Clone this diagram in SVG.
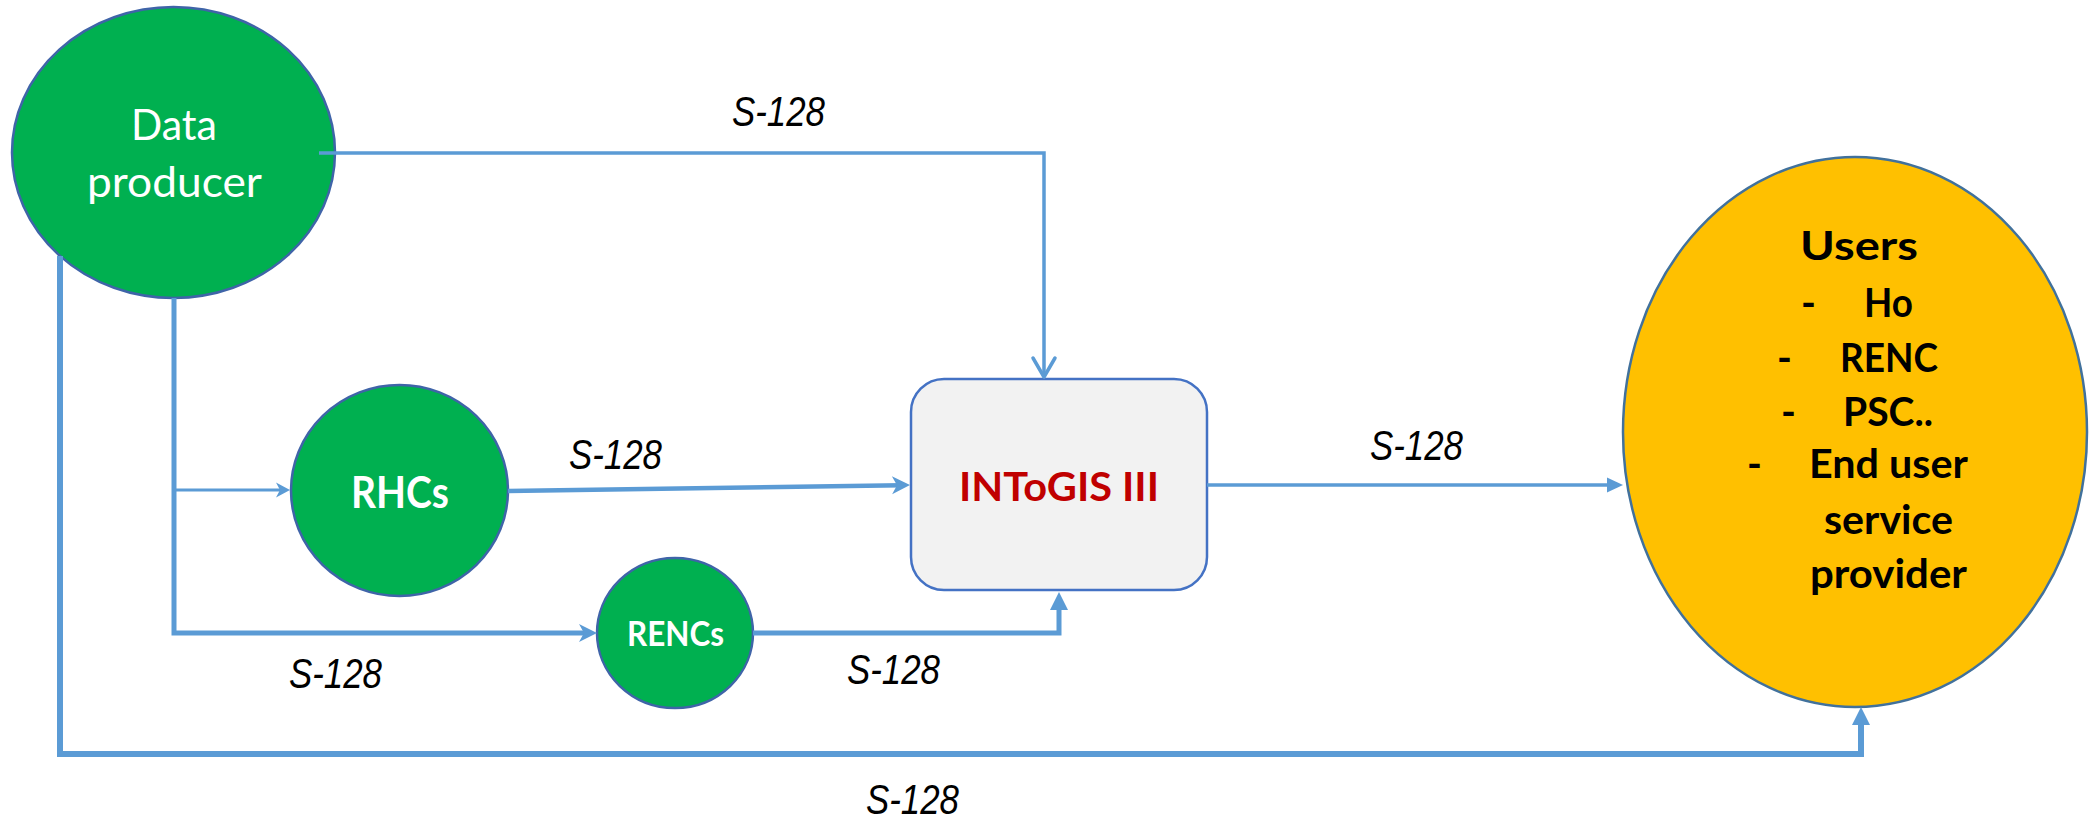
<svg xmlns="http://www.w3.org/2000/svg" width="2089" height="820" viewBox="0 0 2089 820">
<style>
.bg{fill:#ffffff}
.green{fill:#00b050;stroke:#3f64a8;stroke-width:2.5}
.users{fill:#ffc000;stroke:#41719c;stroke-width:2.5}
.box{fill:#f2f2f2;stroke:#4472c4;stroke-width:2.5}
.lbl{font-family:'Lato','Open Sans','Liberation Sans',sans-serif;text-anchor:middle}
.wt{fill:#ffffff}
.bd{font-weight:bold}
.s128{font-family:'Liberation Sans Narrow','Liberation Sans',Arial,sans-serif;font-style:italic;font-size:42px;fill:#000000}
.conn{fill:none;stroke:#5b9bd5;stroke-linejoin:miter;stroke-linecap:butt}
.ah{fill:#5b9bd5;stroke:none}
.ut{font-family:'Lato','Open Sans','Liberation Sans',sans-serif;font-weight:bold;font-size:40px;fill:#000000}
</style>
<defs>
<marker id="vee" markerUnits="userSpaceOnUse" orient="auto" refX="0" refY="0" markerWidth="40" markerHeight="40" overflow="visible">
<path d="M-19,-11 L0,0 L-19,11" fill="none" stroke="#5b9bd5" stroke-width="3.5" stroke-linecap="round" stroke-linejoin="round"/>
</marker>
<marker id="stS" markerUnits="userSpaceOnUse" orient="auto" refX="0" refY="0" markerWidth="40" markerHeight="40" overflow="visible">
<path class="ah" d="M6,0 L-8,-7.5 L-4,0 L-8,7.5 Z"/>
</marker>
<marker id="st" markerUnits="userSpaceOnUse" orient="auto" refX="0" refY="0" markerWidth="40" markerHeight="40" overflow="visible">
<path class="ah" d="M8,0 L-10,-9 L-5,0 L-10,9 Z"/>
</marker>
<marker id="tri" markerUnits="userSpaceOnUse" orient="auto" refX="0" refY="0" markerWidth="40" markerHeight="40" overflow="visible">
<path class="ah" d="M9,0 L-9,-9 L-9,9 Z"/>
</marker>
<marker id="triS" markerUnits="userSpaceOnUse" orient="auto" refX="0" refY="0" markerWidth="40" markerHeight="40" overflow="visible">
<path class="ah" d="M8,0 L-8,-7.5 L-8,7.5 Z"/>
</marker>
</defs>
<rect class="bg" x="0" y="0" width="2089" height="820"/>

<g id="node-data-producer">
<ellipse class="green" cx="173.5" cy="152.5" rx="161.5" ry="145.5"/>
<text class="lbl wt" x="174" y="140" font-size="42" textLength="86" lengthAdjust="spacingAndGlyphs">Data</text>
<text class="lbl wt" x="174.5" y="197" font-size="42" textLength="175" lengthAdjust="spacingAndGlyphs">producer</text>
</g>

<g id="node-rhcs">
<ellipse class="green" cx="399.5" cy="490.5" rx="108.5" ry="105.5"/>
<text class="lbl wt bd" x="400" y="508" font-size="43" textLength="98" lengthAdjust="spacingAndGlyphs">RHCs</text>
</g>

<g id="node-rencs">
<ellipse class="green" cx="675" cy="633" rx="78" ry="75"/>
<text class="lbl wt bd" x="675.5" y="646" font-size="34" textLength="97" lengthAdjust="spacingAndGlyphs">RENCs</text>
</g>

<g id="node-intogis">
<rect class="box" x="911" y="379" width="296" height="211" rx="33" ry="33"/>
<text class="lbl bd" x="1059" y="501" font-size="40" fill="#c00000" textLength="200" lengthAdjust="spacingAndGlyphs">INToGIS III</text>
</g>

<g id="node-users">
<ellipse class="users" cx="1855" cy="432" rx="232" ry="275"/>
<text class="ut" x="1800" y="260" font-size="46" textLength="118" lengthAdjust="spacingAndGlyphs">Users</text>
<text class="ut"><tspan x="1801" y="317">-</tspan><tspan x="1864" y="317" textLength="49" lengthAdjust="spacingAndGlyphs">Ho</tspan></text>
<text class="ut"><tspan x="1777" y="372">-</tspan><tspan x="1840" y="372" textLength="98" lengthAdjust="spacingAndGlyphs">RENC</tspan></text>
<text class="ut"><tspan x="1781" y="426">-</tspan><tspan x="1843" y="426" textLength="90" lengthAdjust="spacingAndGlyphs">PSC..</tspan></text>
<text class="ut"><tspan x="1747" y="478">-</tspan><tspan x="1809" y="478" textLength="159" lengthAdjust="spacingAndGlyphs">End user</tspan></text>
<text class="ut" x="1824" y="534" textLength="129" lengthAdjust="spacingAndGlyphs">service</text>
<text class="ut" x="1810" y="588" textLength="157" lengthAdjust="spacingAndGlyphs">provider</text>
</g>

<g id="connectors">
<path class="conn" stroke-width="3.5" d="M319,153 H1044 V377" marker-end="url(#vee)"/>
<path class="conn" stroke-width="4.5" d="M508,491 L902,485.2" marker-end="url(#st)"/>
<path class="conn" stroke-width="5" d="M174,298 V633 H589" marker-end="url(#st)"/>
<path class="conn" stroke-width="3" d="M174,490 H284" marker-end="url(#stS)"/>
<path class="conn" stroke-width="5" d="M753,633 H1059 V601" marker-end="url(#tri)"/>
<path class="conn" stroke-width="3.5" d="M1207,485 H1615" marker-end="url(#triS)"/>
<path class="conn" stroke-width="6" d="M60,256 V754 H1861 V716" marker-end="url(#tri)"/>
</g>

<g id="connector-labels">
<text class="s128" x="732" y="126" textLength="93" lengthAdjust="spacingAndGlyphs">S-128</text>
<text class="s128" x="569" y="469" textLength="93" lengthAdjust="spacingAndGlyphs">S-128</text>
<text class="s128" x="1370" y="460" textLength="93" lengthAdjust="spacingAndGlyphs">S-128</text>
<text class="s128" x="289" y="688" textLength="93" lengthAdjust="spacingAndGlyphs">S-128</text>
<text class="s128" x="847" y="684" textLength="93" lengthAdjust="spacingAndGlyphs">S-128</text>
<text class="s128" x="866" y="814" textLength="93" lengthAdjust="spacingAndGlyphs">S-128</text>
</g>
</svg>
